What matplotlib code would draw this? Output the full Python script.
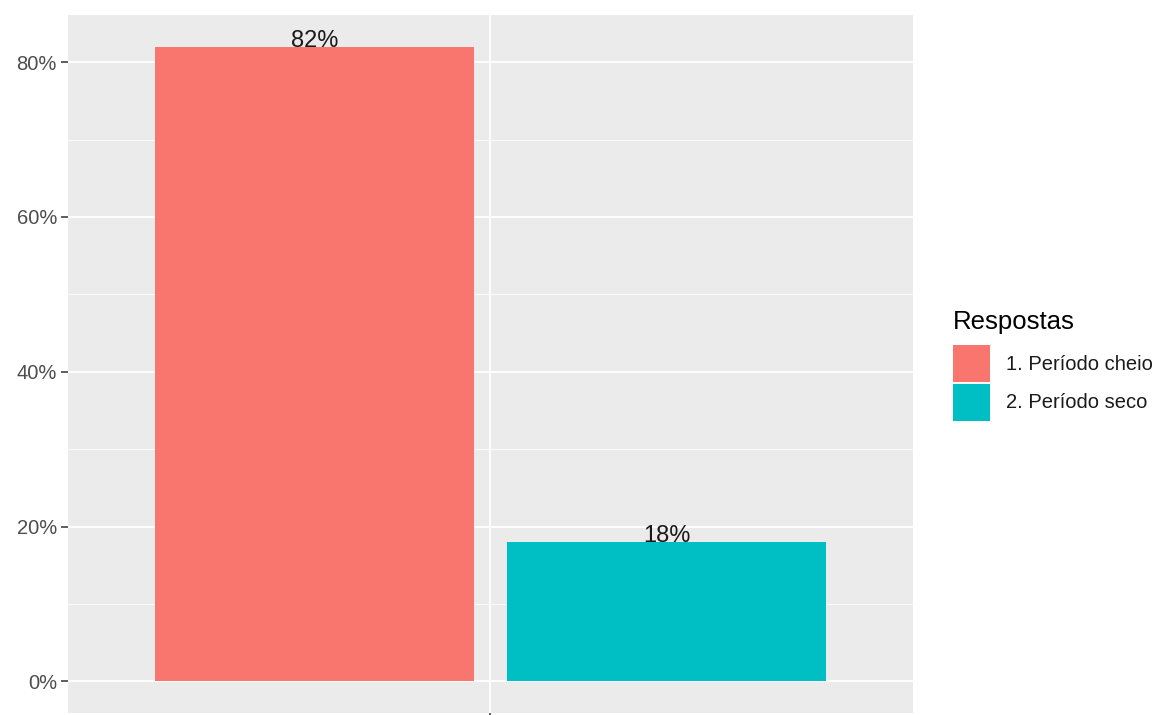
import numpy as np
import matplotlib.pyplot as plt
from matplotlib.patches import Patch
from matplotlib.ticker import MultipleLocator, FuncFormatter

plt.rcParams['font.family'] = ['Liberation Sans', 'DejaVu Sans']

# data
respostas = ["1. Período cheio", "2. Período seco"]
percentuais = [82, 18]
cores = ["#F8766D", "#00BFC4"]

W, H = 1158, 715
fig = plt.figure(figsize=(W / 100, H / 100), dpi=100)
# panel in pixel coords: left 68, right 913, top 15, bottom 713
ax = fig.add_axes([68 / W, (H - 713) / H, (913 - 68) / W, (713 - 15) / H])

# single x category with dodged bars
offsets = [-0.225, 0.225]
largura = 0.407
for off, val, cor in zip(offsets, percentuais, cores):
    ax.bar(1 + off, val, width=largura, color=cor, zorder=3)
    ax.text(1 + off, val, f"{val}%", ha="center", va="baseline",
            fontsize=17, color="#1a1a1a", zorder=4)

ax.set_xlim(1 - 0.54, 1 + 0.54)
ax.set_ylim(-4.1, 86.1)

# ggplot grey theme
ax.set_facecolor("#EBEBEB")
for s in ax.spines.values():
    s.set_visible(False)
ax.yaxis.set_major_locator(MultipleLocator(20))
ax.yaxis.set_minor_locator(MultipleLocator(10))
ax.yaxis.set_major_formatter(FuncFormatter(lambda v, p: f"{v:.0f}%"))
ax.set_xticks([1])
ax.set_xticklabels([""])
ax.grid(which="major", color="white", linewidth=1.3, zorder=0)
ax.grid(which="minor", axis="y", color="white", linewidth=0.6, zorder=0)
ax.set_axisbelow(True)
ax.tick_params(axis="y", which="major", length=5, width=1.1, color="#333333",
               labelsize=14.5, labelcolor="#4D4D4D", pad=3)
ax.tick_params(axis="x", length=5, width=1.1, color="#333333")
ax.tick_params(which="minor", length=0)

handles = [Patch(facecolor=c, edgecolor="none") for c in cores]
leg = fig.legend(handles, respostas, title="Respostas", loc="upper left",
                 bbox_to_anchor=(945 / W, 1 - 302 / H), frameon=False,
                 fontsize=14.5, title_fontsize=18.5, handlelength=1.85,
                 handleheight=2.45, labelspacing=0.08, handletextpad=0.8,
                 alignment="left", borderaxespad=0)
leg._legend_box.sep = 8  # gap between title and keys
for t in leg.get_texts():
    t.set_color("#1a1a1a")

fig.savefig("out.png", dpi=100)
